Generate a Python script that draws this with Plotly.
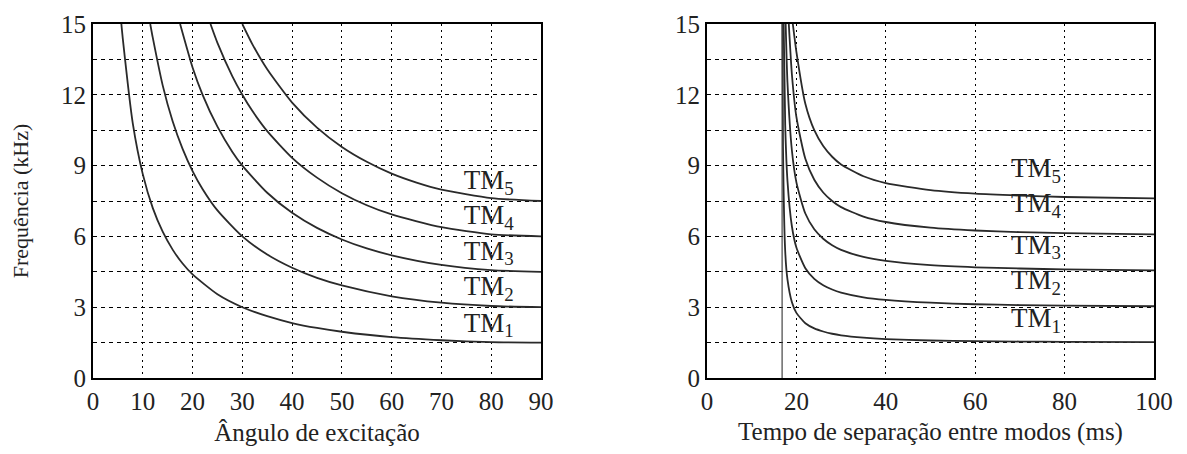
import plotly.graph_objects as go

# ---------------- data ----------------
modes = ["TM<sub>1</sub>", "TM<sub>2</sub>", "TM<sub>3</sub>", "TM<sub>4</sub>", "TM<sub>5</sub>"]

# Left panel: frequency (kHz) vs excitation angle (degrees)
ang_tm1 = [5.7, 6, 8, 10, 12, 14, 16, 18, 20, 25, 30, 35, 40, 45, 50, 60, 70, 80, 90]
frq_tm1 = [15.0, 14.35, 10.78, 8.64, 7.21, 6.20, 5.44, 4.85, 4.39, 3.55, 3.00, 2.62, 2.33, 2.12, 1.96, 1.73, 1.60, 1.52, 1.50]
ang_tm2 = [11.5, 12, 14, 16, 18, 20, 22, 25, 30, 35, 40, 45, 50, 60, 70, 80, 90]
frq_tm2 = [15.0, 14.43, 12.40, 10.88, 9.71, 8.77, 8.01, 7.10, 6.00, 5.23, 4.67, 4.24, 3.92, 3.46, 3.19, 3.05, 3.00]
ang_tm3 = [17.5, 20, 22, 25, 28, 30, 35, 40, 45, 50, 55, 60, 70, 80, 90]
frq_tm3 = [15.0, 13.16, 12.01, 10.65, 9.58, 9.00, 7.85, 7.00, 6.36, 5.87, 5.49, 5.20, 4.79, 4.57, 4.50]
ang_tm4 = [23.6, 25, 28, 30, 32, 35, 40, 45, 50, 55, 60, 70, 80, 90]
frq_tm4 = [15.0, 14.20, 12.78, 12.00, 11.32, 10.46, 9.33, 8.49, 7.83, 7.32, 6.93, 6.39, 6.09, 6.00]
ang_tm5 = [30, 32, 35, 40, 45, 50, 55, 60, 65, 70, 80, 90]
frq_tm5 = [15.0, 14.15, 13.08, 11.67, 10.61, 9.79, 9.16, 8.66, 8.28, 7.98, 7.62, 7.50]

# Right panel: frequency (kHz) vs time separation between modes (ms)
t_tm1 = [16.9, 17, 17.5, 18, 19, 20, 22, 24, 26, 28, 30, 35, 40, 50, 60, 70, 80, 100]
f_tm1 = [15.0, 9.81, 5.36, 4.18, 3.21, 2.76, 2.32, 2.10, 1.97, 1.875, 1.81, 1.71, 1.65, 1.59, 1.56, 1.545, 1.534, 1.52]
t_tm2 = [17.15, 17.5, 18, 19, 20, 22, 24, 26, 28, 30, 35, 40, 50, 60, 70, 80, 100]
f_tm2 = [15.0, 10.71, 8.36, 6.42, 5.53, 4.65, 4.20, 3.93, 3.75, 3.62, 3.42, 3.31, 3.19, 3.125, 3.09, 3.07, 3.04]
t_tm3 = [17.6, 18, 19, 20, 22, 24, 26, 28, 30, 35, 40, 50, 60, 70, 80, 100]
f_tm3 = [15.0, 12.53, 9.63, 8.29, 6.97, 6.30, 5.90, 5.625, 5.43, 5.13, 4.96, 4.78, 4.69, 4.64, 4.60, 4.56]
t_tm4 = [18.3, 19, 20, 22, 24, 26, 28, 30, 35, 40, 50, 60, 70, 80, 100]
f_tm4 = [15.0, 12.85, 11.06, 9.29, 8.40, 7.86, 7.50, 7.24, 6.84, 6.61, 6.37, 6.25, 6.18, 6.14, 6.09]
t_tm5 = [19.2, 20, 22, 24, 26, 28, 30, 35, 40, 50, 60, 70, 80, 100]
f_tm5 = [15.0, 13.82, 11.62, 10.50, 9.83, 9.375, 9.05, 8.55, 8.26, 7.96, 7.81, 7.73, 7.67, 7.61]

asym_t = [16.8, 16.8]
asym_f = [0, 15]

# label positions (data units)
lab_left_x = [79.5] * 5
lab_left_y = [2.25, 3.8, 5.3, 6.8, 8.3]
lab_right_x = [73.6] * 5
lab_right_y = [2.45, 4.05, 5.55, 7.3, 8.8]

y_ticks = [0, 1.5, 3, 4.5, 6, 7.5, 9, 10.5, 12, 13.5, 15]
y_text = ["0", "", "3", "", "6", "", "9", "", "12", "", "15"]
xl_ticks = [0, 10, 20, 30, 40, 50, 60, 70, 80, 90]
xr_ticks = [0, 20, 40, 60, 80, 100]

# ---------------- figure ----------------
fig = go.Figure()
LINE = dict(color="#2a2a2a", width=1.8, shape="spline", smoothing=0.6)

for a, f in [(ang_tm1, frq_tm1), (ang_tm2, frq_tm2), (ang_tm3, frq_tm3), (ang_tm4, frq_tm4), (ang_tm5, frq_tm5)]:
    fig.add_trace(go.Scatter(x=a, y=f, mode="lines", line=LINE, xaxis="x", yaxis="y", showlegend=False, hoverinfo="skip"))

for t, f in [(t_tm1, f_tm1), (t_tm2, f_tm2), (t_tm3, f_tm3), (t_tm4, f_tm4), (t_tm5, f_tm5)]:
    fig.add_trace(go.Scatter(x=t, y=f, mode="lines", line=LINE, xaxis="x2", yaxis="y2", showlegend=False, hoverinfo="skip"))

fig.add_trace(go.Scatter(x=asym_t, y=asym_f, mode="lines", line=dict(color="#444", width=1.2),
                         xaxis="x2", yaxis="y2", showlegend=False, hoverinfo="skip"))

FONT = "Liberation Serif"
fig.add_trace(go.Scatter(x=lab_left_x, y=lab_left_y, mode="text", text=modes,
                         textfont=dict(family=FONT, size=27, color="#222"),
                         xaxis="x", yaxis="y", showlegend=False, hoverinfo="skip"))
fig.add_trace(go.Scatter(x=lab_right_x, y=lab_right_y, mode="text", text=modes,
                         textfont=dict(family=FONT, size=27, color="#222"),
                         xaxis="x2", yaxis="y2", showlegend=False, hoverinfo="skip"))

common_y = dict(range=[0, 15], tickvals=y_ticks, ticktext=y_text, showgrid=True,
                gridcolor="#000", gridwidth=1.4, griddash="4px,4px", showline=True, linecolor="#000",
                linewidth=2, mirror=True, ticks="", zeroline=False, automargin=False,
                tickfont=dict(family=FONT, size=25, color="#222"), domain=[0, 1])
common_x = dict(showgrid=True, gridcolor="#000", gridwidth=1.4, griddash="2px,4px", showline=True,
                linecolor="#000", linewidth=2, mirror=True, ticks="", zeroline=False, automargin=False,
                tickfont=dict(family=FONT, size=25, color="#222"))

FW, FH = 1171, 438
ML, MR, MT, MB = 85, 25, 16, 68
W = FW - ML - MR
fig.update_layout(
    width=FW, height=FH,
    margin=dict(l=ML, r=MR, t=MT, b=MB),
    paper_bgcolor="white", plot_bgcolor="white",
    font=dict(family=FONT),
    xaxis=dict(common_x, range=[0, 90], tickvals=xl_ticks, domain=[0, (533 - ML) / W], anchor="y",
               title=dict(text="Ângulo de excitação", font=dict(family=FONT, size=25, color="#222"), standoff=20)),
    yaxis=dict(common_y, anchor="x",
               title=dict(text="Frequência (kHz)", font=dict(family=FONT, size=22, color="#222"), standoff=28)),
    xaxis2=dict(common_x, range=[0, 100], tickvals=xr_ticks, domain=[(699 - ML) / W, 1], anchor="y2",
                title=dict(text="Tempo de separação entre modos (ms)", font=dict(family=FONT, size=25, color="#222"), standoff=20)),
    yaxis2=dict(common_y, anchor="x2"),
)

fig.write_html("out.html")
